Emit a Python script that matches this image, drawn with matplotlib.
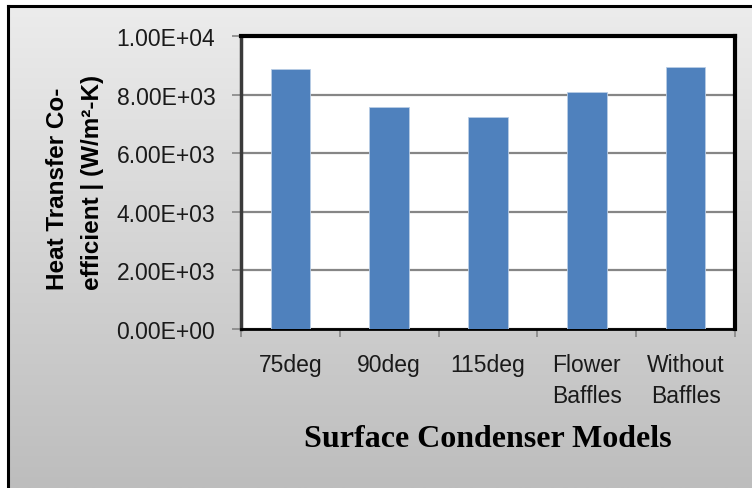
import numpy as np
import matplotlib
matplotlib.use("Agg")
import matplotlib.pyplot as plt
from matplotlib.colors import LinearSegmentedColormap

categories = ["75deg", "90deg", "115deg", "Flower\nBaffles", "Without\nBaffles"]
values = [8870, 7570, 7240, 8080, 8950]
yticks = [0, 2000, 4000, 6000, 8000, 10000]
ytick_labels = ["0.00E+00", "2.00E+03", "4.00E+03", "6.00E+03", "8.00E+03", "1.00E+04"]

W, H = 752, 489
fig = plt.figure(figsize=(W / 100, H / 100), dpi=100)
fig.patch.set_facecolor("white")

# gradient background panel
bg = fig.add_axes([8 / W, 0, 1 - 8 / W, 1 - 7 / H])
grad = np.linspace(0, 1, 256).reshape(-1, 1)
cmap = LinearSegmentedColormap.from_list("g", ["#ececec", "#bdbdbd"])
bg.imshow(grad, aspect="auto", cmap=cmap, extent=[0, 1, 0, 1], origin="upper")
bg.set_xlim(0, 1)
bg.set_ylim(0, 1)
bg.set_xticks([])
bg.set_yticks([])
for s in ["right", "bottom"]:
    bg.spines[s].set_visible(False)
for s in ["top", "left"]:
    bg.spines[s].set_linewidth(2.2)
    bg.spines[s].set_color("black")

left, right = 241 / W, 735 / W
bottom, top = 1 - 330 / H, 1 - 37 / H
ax = fig.add_axes([left, bottom, right - left, top - bottom])
ax.set_facecolor("white")
x = np.arange(len(categories))
ax.bar(x, values, width=0.4, color="#4f81bd", edgecolor="#b9cde5", linewidth=0.6, zorder=3)
ax.set_xlim(-0.5, len(categories) - 0.5)
ax.set_ylim(0, 10000)
ax.set_yticks(yticks)
ax.set_yticklabels(ytick_labels, fontsize=16.5, family="Liberation Sans", color="#1a1a1a")
ax.yaxis.grid(True, color="#868686", linewidth=1.6, zorder=1)
ax.set_axisbelow(True)
ax.tick_params(axis="y", length=6.5, width=1.2, color="#868686", pad=12)

ax.set_xticks(x)
ax.set_xticklabels(categories, fontsize=16.5, family="Liberation Sans", color="#1a1a1a",
                   linespacing=1.45, va="top")
ax.set_xticks(np.arange(-0.5, len(categories)), minor=True)
ax.tick_params(axis="x", which="major", length=0, pad=17.5)
ax.tick_params(axis="x", which="minor", length=6, width=1.2, color="#868686")

for s in ["top", "right"]:
    ax.spines[s].set_linewidth(3)
    ax.spines[s].set_color("black")
ax.spines["bottom"].set_linewidth(2)
ax.spines["bottom"].set_color("black")
ax.spines["left"].set_linewidth(2.5)
ax.spines["left"].set_color("#3a3a3a")

ystart = 1 - 290 / H
fig.text(58 / W, ystart, "Heat Transfer Co-", rotation=90, ha="left", va="center",
         fontsize=17.5, fontweight="bold", family="Liberation Sans", rotation_mode="anchor")
fig.text(93 / W, ystart, "efficient | (W/m²-K)", rotation=90, ha="left", va="center",
         fontsize=17.5, fontweight="bold", family="Liberation Sans", rotation_mode="anchor")

fig.text(488 / W, 1 - 440 / H, "Surface Condenser Models", ha="center", va="center",
         fontsize=23, fontweight="bold", family="Liberation Serif")

fig.savefig("out.png", dpi=100)
